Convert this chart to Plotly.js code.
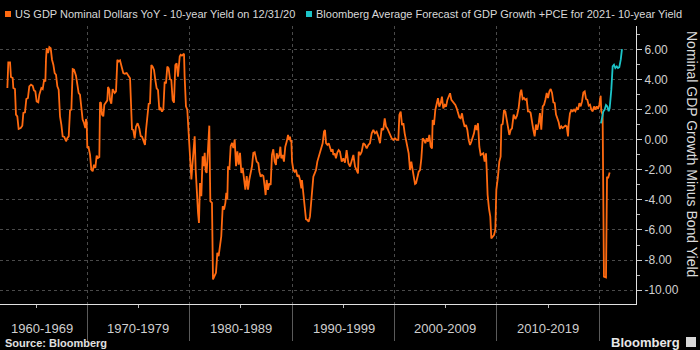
<!DOCTYPE html>
<html>
<head>
<meta charset="utf-8">
<script src="https://cdn.plot.ly/plotly-3.0.1.min.js"></script>
<style>
html,body{margin:0;padding:0;background:#000;}
#chart{width:700px;height:350px;}
</style>
</head>
<body>
<div id="chart"></div>
<script>
// ---- data (decimal years, percentage points) ----
const orangeName = "US GDP Nominal Dollars YoY - 10-year Yield on 12/31/20";
const cyanName = "Bloomberg Average Forecast of GDP Growth +PCE for 2021- 10-year Yield";

const orangeYears = [
1962.19,1962.28,1962.45,1962.54,1962.71,1962.77,1962.93,1963.03,1963.16,1963.29,1963.49,1963.65,1963.75,1963.91,
1964.04,1964.20,1964.33,1964.50,1964.66,1964.79,1964.92,1965.05,1965.21,1965.31,1965.51,1965.64,1965.77,1965.90,
1965.96,1966.03,1966.16,1966.29,1966.42,1966.55,1966.68,1966.81,1966.94,1967.07,1967.20,1967.33,1967.46,1967.59,
1967.75,1967.92,1968.05,1968.18,1968.31,1968.44,1968.57,1968.70,1968.89,1969.02,1969.15,1969.28,1969.41,1969.54,
1969.67,1969.80,1969.87,1969.93,1970.00,1970.10,1970.26,1970.39,1970.52,1970.65,1970.78,1970.91,1971.04,1971.17,
1971.24,1971.33,1971.43,1971.56,1971.66,1971.82,1971.95,1972.02,1972.15,1972.21,1972.34,1972.47,1972.67,1972.80,
1972.93,1973.06,1973.19,1973.38,1973.51,1973.65,1973.84,1974.17,1974.26,1974.36,1974.49,1974.62,1974.75,1974.91,
1975.08,1975.21,1975.34,1975.47,1975.63,1975.73,1975.86,1975.99,1976.12,1976.25,1976.38,1976.51,1976.64,1976.77,
1976.90,1977.03,1977.16,1977.29,1977.42,1977.55,1977.68,1977.81,1977.94,1978.07,1978.20,1978.33,1978.46,1978.59,
1978.72,1978.85,1979.02,1979.11,1979.24,1979.34,1979.44,1979.50,1979.63,1979.76,1979.86,1979.96,1980.06,1980.16,
1980.25,1980.38,1980.48,1980.58,1980.68,1980.81,1980.90,1981.00,1981.13,1981.26,1981.36,1981.46,1981.56,1981.65,
1981.78,1981.91,1982.01,1982.17,1982.27,1982.43,1982.56,1982.63,1982.69,1982.82,1982.92,1983.02,1983.08,1983.22,
1983.35,1983.48,1983.57,1983.67,1983.74,1983.87,1984.00,1984.13,1984.26,1984.39,1984.52,1984.65,1984.78,1984.91,
1985.04,1985.17,1985.30,1985.43,1985.56,1985.69,1985.82,1985.95,1986.08,1986.21,1986.34,1986.54,1986.70,1986.80,
1986.93,1987.06,1987.19,1987.32,1987.41,1987.51,1987.64,1987.77,1987.90,1988.03,1988.16,1988.29,1988.42,1988.49,
1988.62,1988.75,1988.85,1988.94,1989.07,1989.20,1989.33,1989.47,1989.60,1989.69,1989.79,1989.86,1989.92,1989.99,
1990.12,1990.25,1990.38,1990.51,1990.64,1990.77,1990.90,1990.96,1991.09,1991.22,1991.35,1991.48,1991.61,1991.74,
1991.87,1992.00,1992.07,1992.20,1992.33,1992.46,1992.59,1992.72,1992.85,1992.98,1993.11,1993.21,1993.31,1993.44,
1993.57,1993.70,1993.83,1993.96,1994.02,1994.15,1994.28,1994.41,1994.54,1994.67,1994.84,1995.00,1995.16,1995.32,
1995.49,1995.65,1995.81,1995.98,1996.14,1996.30,1996.43,1996.50,1996.63,1996.79,1996.95,1997.12,1997.28,1997.44,
1997.60,1997.77,1997.93,1998.09,1998.25,1998.42,1998.58,1998.74,1998.90,1999.04,1999.17,1999.30,1999.43,1999.56,
1999.72,1999.88,2000.04,2000.21,2000.37,2000.47,2000.60,2000.73,2000.86,2000.99,2001.12,2001.25,2001.38,2001.51,
2001.64,2001.77,2001.90,2002.00,2002.10,2002.23,2002.36,2002.49,2002.62,2002.75,2002.88,2003.01,2003.14,2003.27,
2003.40,2003.53,2003.66,2003.72,2003.85,2003.98,2004.11,2004.24,2004.37,2004.50,2004.63,2004.76,2004.90,2005.03,
2005.16,2005.29,2005.42,2005.55,2005.68,2005.81,2005.94,2006.07,2006.20,2006.33,2006.46,2006.59,2006.72,2006.85,
2006.98,2007.11,2007.24,2007.37,2007.50,2007.63,2007.76,2007.89,2008.02,2008.15,2008.28,2008.41,2008.54,2008.67,
2008.80,2008.93,2009.00,2009.09,2009.22,2009.35,2009.45,2009.58,2009.71,2009.84,2009.94,2010.10,2010.23,2010.36,
2010.43,2010.56,2010.69,2010.82,2010.95,2011.08,2011.21,2011.34,2011.47,2011.63,2011.80,2011.96,2012.12,2012.28,
2012.38,2012.51,2012.64,2012.77,2012.90,2013.03,2013.16,2013.29,2013.42,2013.55,2013.68,2013.81,2013.94,2014.08,
2014.20,2014.33,2014.47,2014.60,2014.73,2014.86,2014.99,2015.12,2015.25,2015.38,2015.51,2015.64,2015.77,2015.90,
2016.03,2016.16,2016.29,2016.42,2016.55,2016.68,2016.81,2016.94,2017.00,2017.13,2017.26,2017.40,2017.53,2017.66,
2017.79,2017.92,2018.05,2018.18,2018.31,2018.44,2018.57,2018.70,2018.83,2018.96,2019.09,2019.22,2019.35,2019.48,
2019.61,2019.74,2019.87,2020.00,2020.13,2020.19,2020.32,2020.45,2020.65,2020.75,2020.85,2020.94,2021.01
];
const orangeValues = [
3.43,5.13,5.13,4.16,4.09,3.43,3.36,1.66,1.55,0.71,0.77,0.93,1.77,1.81,
2.70,2.77,3.54,3.65,3.58,3.27,3.21,2.54,2.48,2.99,3.43,3.36,3.94,3.87,
5.31,6.08,5.75,6.15,6.08,5.31,4.98,4.42,4.31,3.54,3.32,1.55,1.00,0.22,
0.18,-0.11,0.11,0.22,1.95,1.99,4.69,4.65,4.25,3.76,3.10,2.99,2.21,1.33,
1.11,0.77,1.37,1.22,-0.55,-0.44,-1.00,-1.99,-2.10,-1.66,-1.88,-1.06,-1.22,-1.15,
2.48,2.43,1.66,1.55,2.32,2.54,2.61,3.50,3.32,2.65,2.39,3.36,3.10,3.21,
5.31,5.20,5.27,4.76,4.42,4.38,4.42,4.08,1.97,0.69,0.64,0.09,0.86,1.09,
0.75,0.24,0.20,-0.02,-0.35,0.64,1.64,2.37,2.41,4.96,4.85,4.63,3.96,3.41,
3.30,1.97,2.08,1.86,2.02,3.85,3.74,4.85,4.74,4.01,3.96,2.64,2.46,4.96,
5.07,4.19,5.53,5.64,5.58,5.64,5.71,4.20,2.21,1.99,0.66,0.00,-1.11,-2.65,
-1.77,-0.22,0.22,-1.99,-3.54,-4.87,-5.53,-2.88,-3.76,-1.11,-1.77,-0.88,-2.10,-2.21,
-0.66,0.93,-4.09,-4.20,-9.29,-8.96,-8.85,-8.19,-7.52,-7.74,-7.08,-6.64,-6.42,-4.42,
-4.65,-4.20,-3.54,-3.98,-1.77,-1.99,-0.44,-0.22,-0.55,0.00,-1.77,-0.77,-1.66,-0.88,
-2.21,-1.88,-2.88,-3.32,-2.43,-3.32,-2.65,-2.10,-1.77,-0.88,-0.84,-1.46,-1.57,-2.13,
-2.46,-2.35,-2.41,-3.12,-3.68,-2.68,-3.34,-2.90,-3.01,-1.02,-0.64,-1.46,-1.68,-0.91,
-1.24,-1.02,-0.47,-1.24,-1.02,-1.46,-0.47,-0.13,0.31,-0.02,0.20,-0.13,-0.02,-1.46,
-2.02,-2.13,-2.02,-2.46,-2.35,-2.68,-3.23,-2.68,-3.57,-4.78,-5.29,-5.34,-5.45,-5.12,
-4.23,-2.90,-2.46,-2.24,-2.02,-1.46,-1.13,-0.91,-0.58,-0.24,0.53,0.64,-0.24,-0.35,
-0.24,-0.58,-0.80,-0.64,-1.02,-0.91,-1.24,-0.86,-0.69,-0.80,-1.46,-1.24,-1.53,-0.69,
-1.57,-1.79,-1.46,-1.02,-1.79,-2.02,-2.24,-0.80,-1.02,-0.80,-0.24,-0.35,-0.58,-0.35,
-0.24,0.42,0.64,0.42,0.53,0.20,-0.24,0.75,0.64,1.42,0.86,0.75,0.53,0.31,
0.09,-0.02,0.09,-0.02,-0.02,1.64,1.86,0.97,1.09,0.42,-0.02,-0.47,-0.91,-2.02,
-1.46,-2.02,-2.46,-2.95,-2.90,-2.46,-2.13,-2.02,-1.24,0.09,-0.02,-0.24,0.09,-0.13,
0.31,-0.47,-0.58,1.31,0.97,1.97,2.30,2.75,2.19,2.41,2.86,2.08,2.30,2.19,
2.64,2.86,3.08,2.64,2.52,2.41,2.30,2.08,1.75,1.48,1.42,1.75,1.20,0.86,
0.97,0.64,-0.02,-0.35,-0.13,0.20,0.42,0.97,0.64,1.09,-0.47,-1.02,-0.95,-0.91,
-1.46,-0.91,-2.02,-3.68,-4.56,-5.12,-6.56,-6.45,-6.34,-6.00,-3.34,-2.46,-1.46,-1.13,
0.97,1.04,1.97,1.86,1.31,0.64,0.31,0.64,0.75,1.66,1.37,1.59,2.10,3.10,
3.32,2.70,2.77,2.65,2.70,1.88,1.88,1.77,1.00,0.66,0.22,1.00,0.66,1.11,
1.77,0.66,2.21,2.32,2.65,3.10,2.77,3.21,3.36,3.10,2.48,2.43,1.66,1.44,
1.15,0.71,0.88,0.77,0.84,0.93,0.88,0.22,1.00,1.73,1.95,1.88,1.99,1.88,
2.10,1.99,2.43,2.21,2.54,3.14,3.21,2.70,2.65,2.26,2.32,1.99,1.88,2.21,
1.99,2.21,2.04,2.32,2.92,1.88,1.66,-9.10,-9.15,-2.46,-2.57,-2.24,-2.19
];

const cyanYears = [2020.16,2020.29,2020.39,2020.52,2020.65,2020.78,2020.91,2021.01,2021.17,2021.30,2021.43,2021.56,2021.70,2021.82,2021.95,2022.09,2022.21];
const cyanValues = [1.08,1.55,1.88,1.99,2.30,2.21,1.88,2.10,3.32,4.87,4.98,4.76,4.87,4.76,4.81,5.31,6.02];

const decadeLabels = ["1960-1969","1970-1979","1980-1989","1990-1999","2000-2009","2010-2019"];
const decadeLabelYears = [1965.57,1974.95,1985.01,1995.06,2004.93,2014.98];
const decadeBounds = [1970,1980,1990,2000,2010,2020];
const midDecades = [1965,1975,1985,1995,2005,2015];
const yTickValues = [-10,-8,-6,-4,-2,0,2,4,6];
const yTickText = yTickValues.map(v => v.toFixed(2));
const yAxisTitle = "Nominal GDP Growth Minus Bond Yield";
const sourceText = "Source: Bloomberg";
const brandText = "Bloomberg";

// ---- geometry / style ----
const W = 700, H = 350;
const M = {l: 0, r: 64, t: 26, b: 46};
const PW = W - M.l - M.r, PH = H - M.t - M.b;
const px = x => (x - M.l) / PW;
const py = y => (H - M.b - y) / PH;
const ORANGE = "#ff6a10";
const CYAN = "#1cc4c8";
const FONT = "Liberation Sans, Arial, sans-serif";
const GRID = "#4a4a4a";

const traces = [
  {x: orangeYears, y: orangeValues, type: "scatter", mode: "lines", name: orangeName,
   line: {color: ORANGE, width: 1.8}, showlegend: false, hoverinfo: "skip"},
  {x: cyanYears, y: cyanValues, type: "scatter", mode: "lines", name: cyanName,
   line: {color: CYAN, width: 1.8}, showlegend: false, hoverinfo: "skip"}
];

const annotations = [];
decadeLabels.forEach((t, i) => {
  annotations.push({x: decadeLabelYears[i], xref: "x", y: py(328), yref: "paper",
    text: t, showarrow: false, xanchor: "center", yanchor: "middle",
    font: {family: FONT, size: 13, color: "#cfcfcf"}});
});
annotations.push({x: px(13), xref: "paper", y: py(14), yref: "paper", text: orangeName,
  showarrow: false, xanchor: "left", yanchor: "middle", font: {family: FONT, size: 11, color: "#d8d8d8"}});
annotations.push({x: px(314), xref: "paper", y: py(14), yref: "paper", text: cyanName,
  showarrow: false, xanchor: "left", yanchor: "middle", font: {family: FONT, size: 11, color: "#d8d8d8"}});
annotations.push({x: px(692), xref: "paper", y: py(154), yref: "paper", text: yAxisTitle,
  textangle: 90, showarrow: false, xanchor: "center", yanchor: "middle",
  font: {family: FONT, size: 14, color: "#dcdcdc"}});
annotations.push({x: px(3), xref: "paper", y: py(343), yref: "paper", text: "<b>" + sourceText + "</b>",
  showarrow: false, xanchor: "left", yanchor: "middle", font: {family: FONT, size: 11, color: "#e0e0e0"}});
annotations.push({x: px(682), xref: "paper", y: py(342), yref: "paper", text: "<b>" + brandText + "</b>",
  showarrow: false, xanchor: "right", yanchor: "middle", font: {family: FONT, size: 13, color: "#e8e8e8"}});

const shapes = [
  {type: "rect", xref: "paper", yref: "paper", x0: px(5), x1: px(11), y0: py(17), y1: py(11),
   fillcolor: ORANGE, line: {width: 0}},
  {type: "rect", xref: "paper", yref: "paper", x0: px(306), x1: px(312), y0: py(17), y1: py(11),
   fillcolor: CYAN, line: {width: 0}},
  {type: "rect", xref: "paper", yref: "paper", x0: px(686), x1: px(696), y0: py(347), y1: py(337),
   fillcolor: "#d8d8d8", line: {width: 0}}
];

const layout = {
  width: W, height: H,
  margin: M,
  paper_bgcolor: "#000", plot_bgcolor: "#000",
  font: {family: FONT, color: "#cccccc"},
  showlegend: false,
  xaxis: {
    type: "linear", range: [1961.47, 2023.58],
    tickmode: "array", tickvals: decadeBounds, showticklabels: false,
    ticks: "outside", ticklen: 36, tickcolor: "#5a5a5a", tickwidth: 1,
    showgrid: true, gridcolor: GRID, griddash: "dot", gridwidth: 1,
    minor: {tickmode: "array", tickvals: midDecades, ticks: "outside", ticklen: 3, tickcolor: "#bbbbbb", showgrid: false},
    showline: true, linecolor: "#e0e0e0", linewidth: 1,
    zeroline: false, fixedrange: true
  },
  yaxis: {
    side: "right", range: [-10.92, 7.55],
    tickmode: "array", tickvals: yTickValues, ticktext: yTickText,
    ticks: "outside", ticklen: 5, tickcolor: "#cccccc", tickwidth: 1,
    tickfont: {family: FONT, size: 12, color: "#d0d0d0"},
    minor: {tick0: 0, dtick: 1, ticks: "outside", ticklen: 3, tickcolor: "#bbbbbb", showgrid: false},
    showgrid: true, gridcolor: GRID, griddash: "dot", gridwidth: 1,
    showline: true, linecolor: "#e0e0e0", linewidth: 1,
    zeroline: false, fixedrange: true
  },
  annotations: annotations,
  shapes: shapes
};

Plotly.newPlot("chart", traces, layout, {staticPlot: true, displayModeBar: false});
</script>
</body>
</html>
